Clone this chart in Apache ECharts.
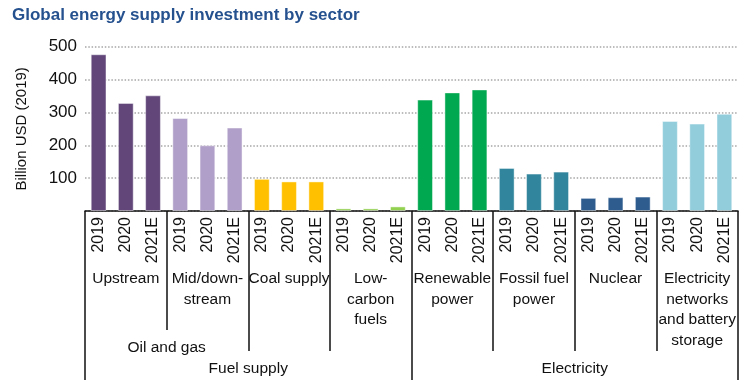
<!DOCTYPE html>
<html>
<head>
<meta charset="utf-8">
<script src="https://cdn.jsdelivr.net/npm/echarts@6/dist/echarts.min.js"></script>
<style>html,body{margin:0;padding:0;background:#fff}#c{width:752px;height:389px}</style>
</head>
<body>
<div id="c"></div>
<script>
const years = ['2019', '2020', '2021E'];
const sectors = ['Upstream', 'Mid/down-\nstream', 'Coal supply', 'Low-\ncarbon\nfuels', 'Renewable\npower', 'Fossil fuel\npower', 'Nuclear', 'Electricity\nnetworks\nand battery\nstorage'];
const upstream = [477, 329, 352];
const midDownstream = [283, 200, 254];
const coalSupply = [98, 90, 90];
const lowCarbonFuels = [8, 8, 14];
const renewablePower = [339, 361, 370];
const fossilFuelPower = [131, 114, 120];
const nuclear = [40, 42, 44];
const networksStorage = [274, 266, 296];
const sectorColors = ['#62467a', '#b09fc8', '#ffc000', '#92d050', '#00a84f', '#31859c', '#2f5c8f', '#92cddc'];
const yTicks = [0, 100, 200, 300, 400, 500];
const level2Labels = ['Oil and gas'];
const level3Labels = ['Fuel supply', 'Electricity'];

const sectorValues = [upstream, midDownstream, coalSupply, lowCarbonFuels, renewablePower, fossilFuelPower, nuclear, networksStorage];
const cats = [];
const data = [];
sectorValues.forEach((vals, si) => {
  vals.forEach((v, yi) => {
    cats.push(years[yi] + '|' + si);
    data.push({ value: v, itemStyle: { color: sectorColors[si] } });
  });
});

const n = cats.length;
const FONT = 'Liberation Sans';
const txt = { fontFamily: FONT, fontSize: 16, color: '#111' };

function sepAxis(vals, len) {
  return {
    type: 'value', position: 'bottom', min: 0, max: n, gridIndex: 0,
    axisLine: { show: false }, splitLine: { show: false },
    axisLabel: { show: false },
    axisTick: { show: true, customValues: vals, length: len, inside: false, lineStyle: { color: '#111', width: 1.5 } }
  };
}
function labelAxis(vals, names, margin) {
  return {
    type: 'value', position: 'bottom', min: 0, max: n, gridIndex: 0,
    axisLine: { show: false }, splitLine: { show: false }, axisTick: { show: false },
    axisLabel: Object.assign({}, txt, {
      show: true, customValues: vals, margin: margin, lineHeight: 20.5, align: 'center', fontSize: 15.5,
      formatter: function (v) { return names[vals.indexOf(v)] || ''; }
    })
  };
}

const chart = echarts.init(document.getElementById('c'), null, { renderer: 'canvas' });
chart.setOption({
  animation: false,
  title: {
    text: 'Global energy supply investment by sector', left: 7, top: 2,
    textStyle: { fontFamily: FONT, fontSize: 17, fontWeight: 'bold', color: '#25518f' }
  },
  grid: { left: 85, right: 14, top: 46.7, bottom: 178, containLabel: false },
  xAxis: [
    {
      type: 'category', data: cats, position: 'bottom',
      axisLine: { show: true, lineStyle: { color: '#111', width: 1.5 } },
      axisTick: { show: false },
      axisLabel: Object.assign({ rotate: 90, margin: 6, interval: 0, formatter: v => v.split('|')[0] }, txt)
    },
    sepAxis([3], 119),
    sepAxis([6, 9, 15, 18, 21], 140),
    sepAxis([0, 12, 24], 169),
    labelAxis([1.5, 4.5, 7.5, 10.5, 13.5, 16.5, 19.5, 22.5], sectors, 57.5),
    labelAxis([3], level2Labels, 126.5),
    labelAxis([6, 18], level3Labels, 147)
  ],
  yAxis: {
    type: 'value', min: 0, max: 500, interval: 100,
    name: 'Billion USD (2019)', nameLocation: 'middle', nameGap: 56, nameRotate: 90,
    nameTextStyle: { fontFamily: FONT, fontSize: 15, color: '#111' },
    axisLine: { show: false, onZero: false }, axisTick: { show: false },
    axisLabel: Object.assign({}, txt, { margin: 8, fontSize: 17, formatter: v => (v === 0 ? '' : String(v)) }),
    splitLine: { lineStyle: { color: '#a6a6a6', width: 1.5, type: [1.5, 1.8] } }
  },
  series: [{
    type: 'bar', xAxisIndex: 0, yAxisIndex: 0, data: data, barWidth: '58%',
    itemStyle: { borderColor: 'rgba(255,255,255,0.45)', borderWidth: 1 }
  }]
});
</script>
</body>
</html>
